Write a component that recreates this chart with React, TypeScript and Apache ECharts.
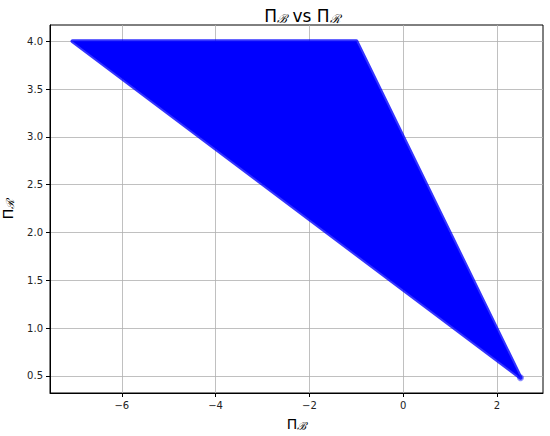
import React, { useEffect, useRef } from "react";
import * as echarts from "echarts";

// Vertices of the filled scatter region
const vertexX = [-7.05, -1.0, 2.5];
const vertexY = [4.0, 4.0, 0.48];
const xTicks = [-6, -4, -2, 0, 2];
const yTicks = [0.5, 1.0, 1.5, 2.0, 2.5, 3.0, 3.5, 4.0];

export default function App() {
  const ref = useRef<HTMLDivElement>(null);
  useEffect(() => {
    document.body.style.margin = "0";
    const chart = echarts.init(ref.current!, null, { renderer: "svg" });
    const font = "DejaVu Sans";
    const pts = vertexX.map((x, i) => [x, vertexY[i]]);
    const sub = { fontFamily: "DejaVu Serif", fontStyle: "italic", fontWeight: "normal", color: "#000" };
    chart.setOption({
      animation: false,
      backgroundColor: "#ffffff",
      title: {
        text: "{m|Π}{s|ℬ}{m| vs Π}{s|ℛ}",
        left: 297,
        textAlign: "center",
        top: 1,
        textStyle: {
          fontWeight: "normal",
          rich: {
            m: { fontFamily: font, fontSize: 17, fontWeight: "normal", color: "#000" },
            s: { ...sub, fontSize: 12, padding: [7, 0, 0, 0] },
          },
        },
      },
      grid: { left: 50, right: 7, top: 25, bottom: 43, outerBoundsMode: "none", containLabel: false, show: true, borderColor: "#000", borderWidth: 1, backgroundColor: "transparent" },
      xAxis: {
        type: "value",
        min: -7.53,
        max: 2.98,
        name: "{m|Π}{s|ℬ}",
        nameLocation: "middle",
        nameGap: 22,
        nameTextStyle: {
          rich: {
            m: { fontFamily: font, fontSize: 14, color: "#000" },
            s: { ...sub, fontSize: 11, padding: [6, 0, 0, 0] },
          },
        },
        axisLine: { show: true, onZero: false, lineStyle: { color: "#000", width: 1 } },
        axisTick: { show: true, length: 4, customValues: xTicks, lineStyle: { color: "#000" } },
        axisLabel: { customValues: xTicks, fontFamily: font, fontSize: 10, color: "#222", margin: 7, formatter: (v: number) => (v < 0 ? "\u2212" + Math.abs(v) : String(v)) },
        splitLine: { show: true, lineStyle: { color: "#b0b0b0", width: 0.8 } },
      },
      yAxis: {
        type: "value",
        min: 0.32,
        max: 4.17,
        name: "{m|Π}{s|ℛ}",
        nameLocation: "middle",
        nameGap: 27,
        nameRotate: 90,
        nameTextStyle: {
          rich: {
            m: { fontFamily: font, fontSize: 14, color: "#000" },
            s: { ...sub, fontSize: 11, padding: [6, 0, 0, 0] },
          },
        },
        axisLine: { show: true, onZero: false, lineStyle: { color: "#000", width: 1 } },
        axisTick: { show: true, length: 4, customValues: yTicks, lineStyle: { color: "#000" } },
        axisLabel: { customValues: yTicks, fontFamily: font, fontSize: 10, color: "#222", margin: 7, formatter: (v: number) => v.toFixed(1) },
        splitLine: { show: true, lineStyle: { color: "#b0b0b0", width: 0.8 } },
      },
      series: [
        {
          type: "custom",
          data: pts,
          clip: true,
          renderItem: (params: any, api: any) => {
            if (params.dataIndex !== 0) return null;
            const points = pts.map((p) => api.coord(p));
            return {
              type: "polygon",
              shape: { points },
              style: { fill: "#0000ff", stroke: "rgba(0,0,255,0.8)", lineWidth: 4, lineJoin: "round" },
            };
          },
        },
        {
          type: "scatter",
          data: [pts[2]],
          symbolSize: 7,
          itemStyle: { color: "#0000ff", opacity: 0.45 },
        },
      ],
    });
    return () => chart.dispose();
  }, []);
  return <div ref={ref} style={{ width: 550, height: 436 }} />;
}
